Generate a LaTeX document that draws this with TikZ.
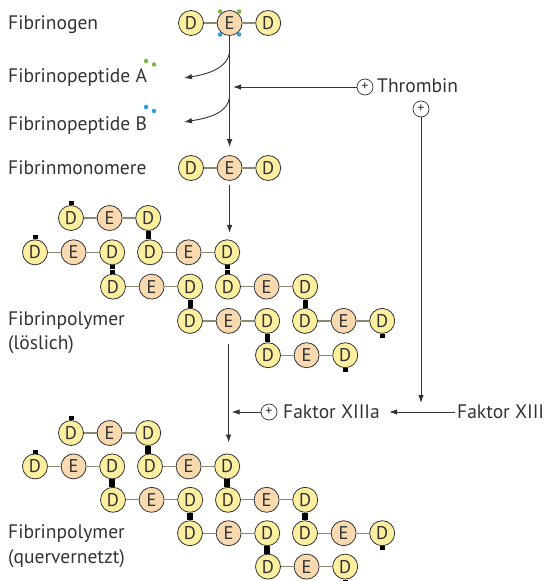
\documentclass[tikz,border=0pt]{standalone}
\usepackage{fontspec}
\setmainfont{PT Sans}
\usetikzlibrary{positioning,arrows.meta}

\definecolor{dyellow}{HTML}{FCF0A0}
\definecolor{epeach}{HTML}{F9D9AF}
\definecolor{linkgray}{HTML}{8C8872}
\definecolor{pepgreen}{HTML}{7DB646}
\definecolor{pepblue}{HTML}{2A9FDA}
\definecolor{ink}{HTML}{333333}

\tikzstyle{unit} = [draw=ink, line width=0.8bp, circle, minimum size=25bp, inner sep=0pt, text=ink, font=\fontsize{18.5}{18.5}\selectfont]
\tikzstyle{dball} = [unit, fill=dyellow]
\tikzstyle{eball} = [unit, fill=epeach]
\tikzstyle{link} = [draw=linkgray, line width=1.3bp]
\tikzstyle{knob} = [draw=black, line width=5bp]
\tikzstyle{crossbar} = [draw=black, line width=6bp]
\tikzstyle{plus} = [draw=ink, line width=0.7bp, circle, minimum size=16bp, inner sep=0pt, text=ink, font=\fontsize{14}{14}\selectfont]
\tikzstyle{txt} = [anchor=base west, inner sep=0pt, text=ink, font=\fontsize{19.6}{23}\selectfont]
\tikzstyle{flow} = [draw=ink, line width=0.9bp, -{Latex[length=8bp,width=5.5bp]}]
\tikzstyle{pepdot} = [circle, inner sep=0pt, minimum size=4.5bp]

% one fibrin unit: D - E - D
\newcommand{\fibmol}[3]{%
  \node[dball] (#1d1) at (#2,#3) {D};
  \node[eball,right=of #1d1] (#1e) {E};
  \node[dball,right=of #1e] (#1d2) {D};
  \draw[link] (#1d1) -- (#1e) -- (#1d2);
}

% D-D contacts
\newcommand{\softjoint}[2]{%
  \draw[knob] (#1.south) -- ++(0,4);
  \draw[knob] (#1.south |- #2.north) -- ++(0,-4);
}
\newcommand{\hardjoint}[2]{%
  \draw[crossbar] (#1.south) -- (#1.south |- #2.north);
}

% staggered polymer: prefix, top row, row step, joint
\newcommand{\fibpolymer}[4]{%
  \fibmol{#1a}{71}{#2}
  \fibmol{#1b}{35}{#2+#3}
  \fibmol{#1c}{150}{#2+#3}
  \fibmol{#1d}{113}{#2+2*#3}
  \fibmol{#1e}{228}{#2+2*#3}
  \fibmol{#1f}{190}{#2+3*#3}
  \fibmol{#1g}{305}{#2+3*#3}
  \fibmol{#1h}{268}{#2+4*#3}
  #4{#1ad2}{#1cd1}
  #4{#1bd2}{#1dd1}
  #4{#1cd2}{#1ed1}
  #4{#1dd2}{#1fd1}
  #4{#1ed2}{#1gd1}
  #4{#1fd2}{#1hd1}
  % open ends
  \draw[knob] (#1ad1.north) -- ++(0,-4);
  \draw[knob] (#1bd1.north) -- ++(0,-4);
  \draw[knob] (#1gd2.south) -- ++(0,4);
  \draw[knob] (#1hd2.south) -- ++(0,4);
}

\begin{document}
\begin{tikzpicture}[x=1bp, y=-1bp, node distance=38.6bp, on grid]
  \useasboundingbox (0,0) rectangle (545,581);

  % fibrinogen
  \node[txt] (fgntxt) at (8,30) {Fibrinogen};
  \fibmol{fgn}{191}{23}
  \node[pepdot,fill=pepgreen] (fgnga) at ([shift={(-9.5,-11.5)}]fgne.center) {};
  \node[pepdot,fill=pepgreen] (fgngb) at ([shift={(9.5,-11.5)}]fgne.center) {};
  \node[pepdot,fill=pepblue] (fgnba) at ([shift={(-9.5,11.5)}]fgne.center) {};
  \node[pepdot,fill=pepblue] (fgnbb) at ([shift={(9.5,11.5)}]fgne.center) {};

  % fibrinopeptides
  \node[txt] (fpa) at (8,83) {Fibrinopeptide A};
  \node[pepdot,fill=pepgreen] (fpaga) at (146,61) {};
  \node[pepdot,fill=pepgreen] (fpagb) at (154,64.5) {};
  \node[txt] (fpb) at (8,131) {Fibrinopeptide B};
  \node[pepdot,fill=pepblue] (fpbba) at (146,107) {};
  \node[pepdot,fill=pepblue] (fpbbb) at (154,111) {};

  % fibrin monomer
  \node[txt] (montxt) at (8,174.5) {Fibrinmonomere};
  \fibmol{mono}{191}{168}

  % cleavage by thrombin
  \draw[flow, shorten >=8bp] (fgne) -- (monoe);
  \coordinate (cutA) at (fgne.south |- 0,50);
  \coordinate (tipA) at (184,78);
  \coordinate (cutB) at (fgne.south |- 0,95);
  \coordinate (tipB) at (184,122);
  \draw[flow] (cutA) .. controls +(0,20) and +(18,-3) .. (tipA);
  \draw[flow] (cutB) .. controls +(0,20) and +(18,-3) .. (tipB);

  \node[plus] (thrplus) at (365,87) {+};
  \node[txt] (thr) at (377,93) {Thrombin};
  \node[plus] (thrplus2) at (421,109) {+};
  \draw[flow, shorten >=3.5bp] (thrplus) -- (thrplus -| fgne);

  % soluble polymer
  \node[txt] (soltxt) at (8,325) {Fibrinpolymer};
  \node[txt] (soltxt2) at (8,349) {(löslich)};
  \fibpolymer{s}{218}{34.3}{\softjoint}
  \draw[flow, shorten <=4bp, shorten >=6.5bp] (monoe) -- (monoe |- scd2.north);

  % factor XIII activation
  \node[txt] (f13) at (457,418) {Faktor XIII};
  \node[txt] (f13a) at (283,418) {Faktor XIIIa};
  \node[plus] (f13plus) at (269,412) {+};
  \draw[flow] ([shift={(-2,-6)}]f13.base west) -- ([shift={(9,-6)}]f13a.base east);
  \draw[flow, shorten >=9bp] (thrplus2) -- (thrplus2 |- f13plus);
  \draw[flow, shorten >=3bp] (f13plus) -- (f13plus -| sfe);

  % crosslinked polymer
  \node[txt] (qtxt) at (8,538) {Fibrinpolymer};
  \node[txt] (qtxt2) at (8,563) {(quervernetzt)};
  \fibpolymer{q}{433}{33.4}{\hardjoint}
  \draw[flow, shorten <=10bp, shorten >=11bp] (sfe) -- (sfe |- qcd2.north);
\end{tikzpicture}
\end{document}
